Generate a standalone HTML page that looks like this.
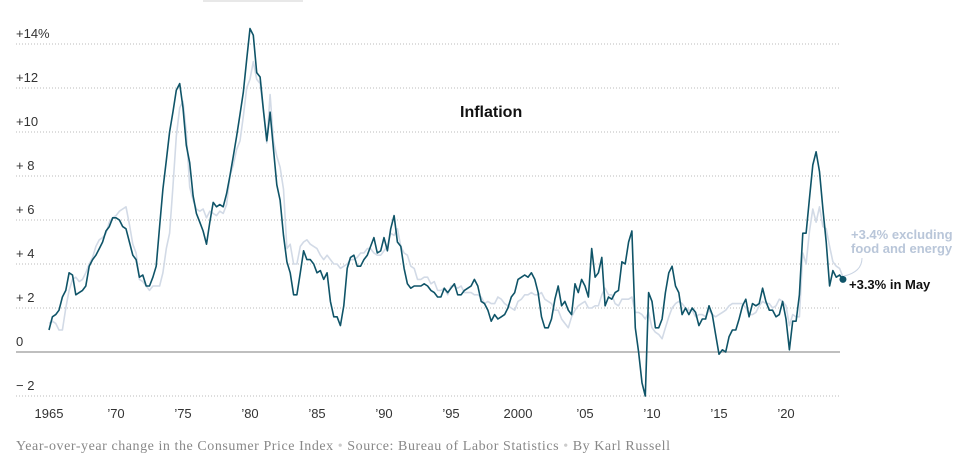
<!DOCTYPE html>
<html><head><meta charset="utf-8"><style>
body{margin:0;background:#fff;width:970px;height:467px;overflow:hidden;font-family:"Liberation Sans",sans-serif}
svg{position:absolute;left:0;top:0}
</style></head><body>
<svg width="970" height="467" id="chart">
<rect x="203" y="0" width="100" height="2" fill="#e8e8e8"/>
<g id="grid"></g><g id="lines"></g><g id="labels"></g>
<text x="460" y="117" font-size="16" font-weight="bold" fill="#111">Inflation</text>
<text x="851" y="239" font-size="13" font-weight="bold" fill="#b9c6d9">+3.4% excluding</text>
<text x="851" y="253" font-size="13" font-weight="bold" fill="#b9c6d9">food and energy</text>
<path d="M862,258 Q862,272 844,276" fill="none" stroke="#c9d3e2" stroke-width="1"/>
<text x="849" y="289" font-size="13" font-weight="bold" fill="#111">+3.3% in May</text>
<text x="16" y="450" font-size="14" fill="#888" font-family="Liberation Serif,serif" textLength="654" lengthAdjust="spacing">Year-over-year change in the Consumer Price Index   <tspan fill="#ccc">•</tspan>   Source: Bureau of Labor Statistics   <tspan fill="#ccc">•</tspan>   By Karl Russell</text>
</svg>
<script>
const startYear=1965, step=0.25;
const yTicks=[14,12,10,8,6,4,2,0,-2];
const yTickLabels=["+14%","+12","+10","+ 8","+ 6","+ 4","+ 2","0","− 2"];
const xTicks=[1965,1970,1975,1980,1985,1990,1995,2000,2005,2010,2015,2020];
const xTickLabels=["1965","’70","’75","’80","’85","’90","’95","2000","’05","’10","’15","’20"];
const headline=[1.0,1.6,1.7,1.9, 2.5,2.8,3.6,3.5, 2.6,2.7,2.8,3.0, 3.9,4.2,4.4,4.7, 5.0,5.5,5.7,6.1, 6.1,6.0,5.7,5.6, 5.0,4.4,4.2,3.4, 3.5,3.0,3.0,3.4, 3.9,5.7,7.4,8.7, 10.0,10.9,11.9,12.2, 11.1,9.4,8.6,7.1, 6.3,5.9,5.5,4.9, 5.9,6.8,6.6,6.7, 6.6,7.2,8.0,8.9, 9.8,10.8,11.8,13.3, 14.7,14.4,12.7,12.5, 11.0,9.6,10.9,9.2, 7.6,6.9,5.3,4.1, 3.6,2.6,2.6,3.6, 4.6,4.2,4.2,4.0, 3.6,3.7,3.3,3.6, 2.3,1.6,1.6,1.2, 2.1,3.8,4.3,4.4, 3.9,3.9,4.2,4.4, 4.8,5.2,4.5,4.6, 5.2,4.6,5.6,6.2, 5.0,4.8,3.8,3.1, 2.9,3.0,3.0,3.0, 3.1,3.0,2.8,2.7, 2.5,2.5,2.9,2.7, 2.9,3.1,2.6,2.6, 2.8,2.9,3.0,3.3, 3.0,2.3,2.2,1.9, 1.4,1.7,1.5,1.6, 1.7,2.0,2.5,2.7, 3.3,3.4,3.5,3.4, 3.6,3.3,2.7,1.6, 1.1,1.1,1.5,2.4, 3.0,2.1,2.3,1.9, 1.7,3.1,2.7,3.3, 3.0,2.5,4.7,3.4, 3.6,4.3,2.1,2.5, 2.4,2.7,2.8,4.1, 4.0,5.0,5.5,1.1, 0.0,-1.4,-2.0,2.7, 2.3,1.1,1.1,1.5, 2.7,3.6,3.9,3.0, 2.7,1.7,2.0,1.7, 2.0,1.8,1.2,1.5, 1.5,2.1,1.7,0.8, -0.1,0.1,0.0,0.7, 1.0,1.0,1.5,2.1, 2.4,1.6,2.2,2.1, 2.2,2.9,2.3,1.9, 1.9,1.6,1.7,2.3, 1.5,0.1,1.4,1.4, 2.6,5.4,5.4,7.0, 8.5,9.1,8.2,6.5, 5.0,3.0,3.7,3.4, 3.5,3.3];
const core=[1.3,1.4,1.3,1.0, 1.0,2.0,2.8,3.3, 3.4,3.2,3.3,3.6, 4.0,4.3,4.8,5.1, 5.2,5.4,5.9,6.1, 6.2,6.4,6.5,6.6, 5.8,4.9,4.5,3.3, 3.2,3.0,2.8,3.0, 3.0,3.0,3.6,4.7, 5.4,7.5,9.8,11.1, 11.4,10.0,7.5,6.9, 6.5,6.4,6.5,6.1, 6.4,6.3,6.2,6.4, 6.3,6.7,8.0,8.5, 9.2,9.6,10.7,12.0, 12.4,13.2,12.4,12.2, 11.0,9.5,11.7,9.6, 8.9,8.4,7.4,4.7, 4.9,4.0,4.0,4.8, 5.0,5.1,4.9,4.8, 4.7,4.4,4.2,4.4, 4.2,4.0,4.0,3.8, 3.9,4.0,4.2,4.2, 4.3,4.5,4.5,4.7, 4.7,4.5,4.4,4.4, 4.6,4.8,5.4,5.3, 5.6,4.8,4.5,4.4, 3.9,3.8,3.3,3.3, 3.4,3.4,3.1,3.2, 2.8,2.8,2.9,2.6, 3.0,3.0,2.9,3.0, 2.7,2.7,2.7,2.6, 2.6,2.5,2.2,2.3, 2.2,2.2,2.5,2.4, 2.2,2.1,2.0,1.9, 2.3,2.4,2.6,2.6, 2.7,2.6,2.6,2.7, 2.4,2.3,2.2,1.9, 1.9,1.5,1.3,1.1, 1.6,1.9,2.1,2.2, 2.3,2.0,2.0,2.1, 2.1,2.6,2.9,2.6, 2.6,2.2,2.1,2.4, 2.4,2.4,2.5,1.8, 1.8,1.7,1.5,1.8, 1.1,0.9,0.8,0.6, 1.1,1.6,2.0,2.2, 2.3,2.2,2.0,1.9, 1.9,1.6,1.7,1.7, 1.6,1.9,1.7,1.6, 1.7,1.8,1.9,2.1, 2.2,2.2,2.2,2.2, 2.0,1.7,1.7,1.8, 2.1,2.3,2.2,2.2, 2.0,2.1,2.4,2.3, 2.1,1.2,1.7,1.6, 1.6,4.5,4.0,5.5, 6.5,5.9,6.6,5.7, 5.6,4.8,4.1,3.9, 3.8,3.4];

const NS="http://www.w3.org/2000/svg";
const X0=49, PXY=13.4, Y0=352, PXU=22;
const xs=yr=>X0+(yr-1965)*PXY;
const ys=v=>Y0-v*PXU;
function mk(tag,attrs,parent){const e=document.createElementNS(NS,tag);for(const k in attrs)e.setAttribute(k,attrs[k]);parent.appendChild(e);return e;}
const grid=document.getElementById('grid'),lines=document.getElementById('lines'),labels=document.getElementById('labels');
yTicks.forEach((t,i)=>{
  const l=mk('line',{x1:16,x2:840,y1:ys(t),y2:ys(t),stroke:t===0?'#999':'#bbb','stroke-width':t===0?1.2:1,'stroke-dasharray':t===0?'':'1,2'},grid);
  
  
  const tx=mk('text',{x:16,y:ys(t)-6,'font-size':13,fill:'#333'},labels);
  tx.textContent=yTickLabels[i];
  
  
});
xTicks.forEach((t,i)=>{
  const tx=mk('text',{x:xs(t),y:418,'font-size':13,fill:'#333','text-anchor':'middle'},labels);
  tx.textContent=xTickLabels[i];
  
  
});
function path(arr){return arr.map((v,i)=>(i?'L':'M')+xs(startYear+i*step).toFixed(1)+','+ys(v).toFixed(1)).join('');}
const pc=mk('path',{d:path(core),fill:'none',stroke:'#d2dae6','stroke-width':1.6,'stroke-linejoin':'round'},lines);


const ph=mk('path',{d:path(headline),fill:'none',stroke:'#0f5468','stroke-width':1.6,'stroke-linejoin':'round'},lines);


const last=headline.length-1;
const dot=mk('circle',{cx:xs(startYear+last*step),cy:ys(headline[last]),r:3.5,fill:'#0f5468'},lines);


</script>
</body></html>
